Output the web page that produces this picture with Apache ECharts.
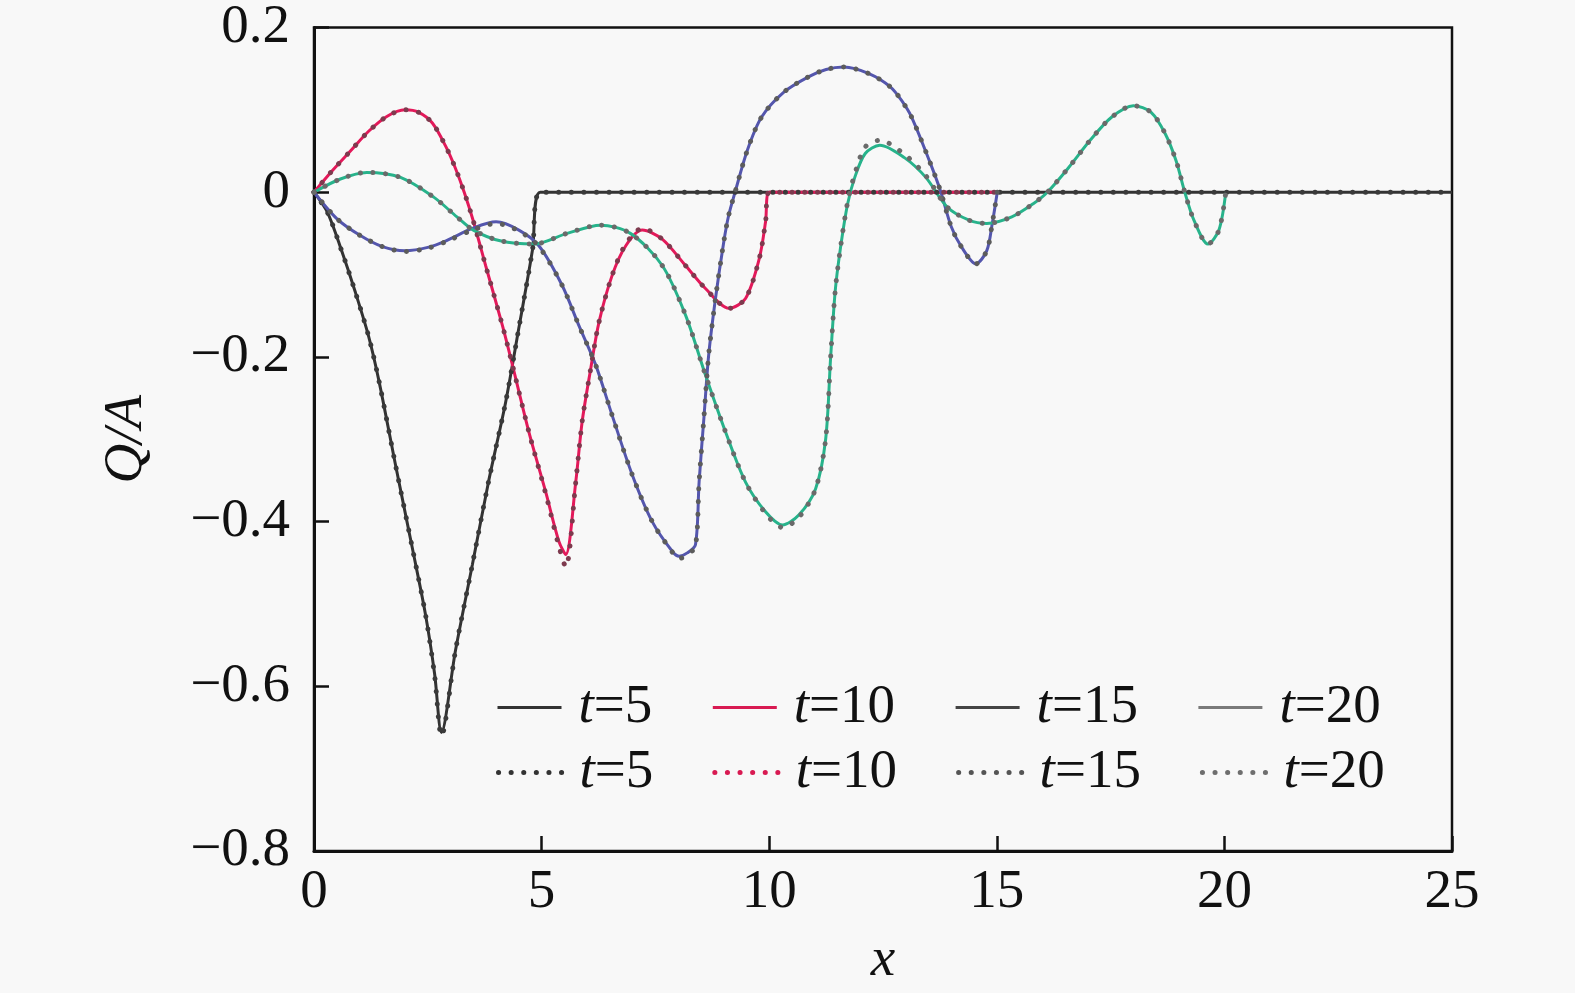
<!DOCTYPE html>
<html>
<head>
<meta charset="utf-8">
<script src="https://cdn.jsdelivr.net/npm/echarts@6/dist/echarts.min.js"></script>
<style>
html,body{margin:0;padding:0;background:#f8f8f8;}
#c{width:1575px;height:993px;}
</style>
</head>
<body>
<div id="c"></div>
<script>
// ---- data ----
const xTicks = [0, 5, 10, 15, 20, 25];
const yTicks = [-0.8, -0.6, -0.4, -0.2, 0, 0.2];

const t5X  = [0,0.3,0.6,0.9,1.2,1.43,1.79,2.16,2.45,2.65,2.8,3.11,3.48,3.84,4.21,4.5,4.8,4.97,25];
const t5Y  = [0,-0.025,-0.07,-0.12,-0.175,-0.23,-0.331,-0.432,-0.513,-0.585,-0.656,-0.556,-0.452,-0.35,-0.255,-0.165,-0.07,0,0];
const t5dY = [0,-0.025,-0.07,-0.12,-0.175,-0.23,-0.331,-0.432,-0.513,-0.587,-0.66,-0.556,-0.452,-0.35,-0.255,-0.165,-0.07,0,0];

const t10X  = [0,0.4,0.8,1.2,1.6,2.0,2.3,2.6,2.9,3.1,3.3,3.5,3.77,4.14,4.36,4.72,5.09,5.38,5.53,5.75,5.89,6.08,6.26,6.55,6.85,7.21,7.65,8.16,8.6,9.12,9.48,9.78,9.92,10.0,15];
const t10Y  = [0,0.026,0.05,0.074,0.092,0.1,0.097,0.084,0.055,0.03,0,-0.035,-0.089,-0.162,-0.21,-0.291,-0.364,-0.424,-0.44,-0.352,-0.279,-0.214,-0.158,-0.101,-0.065,-0.046,-0.057,-0.089,-0.117,-0.141,-0.129,-0.081,-0.036,0,0];
const t10dY = [0,0.026,0.05,0.074,0.092,0.1,0.097,0.084,0.055,0.03,0,-0.035,-0.089,-0.162,-0.21,-0.291,-0.366,-0.43,-0.455,-0.352,-0.279,-0.214,-0.158,-0.101,-0.063,-0.044,-0.057,-0.089,-0.117,-0.141,-0.129,-0.081,-0.036,0,0];

const t15X  = [0,0.5,1.0,1.5,2.0,2.5,2.9,3.48,4.0,4.5,4.94,5.45,5.82,6.19,6.55,6.99,7.43,7.87,8.02,8.2,8.38,8.46,8.57,8.67,8.82,9.0,9.11,9.25,9.52,9.83,10.31,10.86,11.25,11.64,12.19,12.66,12.9,13.13,13.52,13.76,14.0,14.23,14.54,14.78,14.9,15.01];
const t15Y  = [0,-0.032,-0.052,-0.066,-0.071,-0.067,-0.059,-0.044,-0.036,-0.046,-0.065,-0.113,-0.162,-0.21,-0.271,-0.343,-0.4,-0.436,-0.442,-0.438,-0.428,-0.352,-0.271,-0.198,-0.129,-0.061,-0.028,0,0.051,0.091,0.121,0.14,0.149,0.152,0.144,0.128,0.112,0.091,0.038,0.002,-0.042,-0.067,-0.087,-0.071,-0.038,0];
const t15dY = [0,-0.032,-0.052,-0.066,-0.072,-0.068,-0.06,-0.046,-0.038,-0.047,-0.066,-0.113,-0.162,-0.21,-0.271,-0.343,-0.4,-0.437,-0.445,-0.44,-0.43,-0.352,-0.271,-0.198,-0.129,-0.061,-0.028,0,0.051,0.091,0.121,0.14,0.149,0.152,0.144,0.128,0.112,0.091,0.038,0.002,-0.042,-0.067,-0.087,-0.071,-0.038,0];

const t20X  = [0,0.58,1.16,1.9,2.63,3.14,3.5,4.09,4.82,5.56,6.29,6.95,7.65,8.16,8.6,9.04,9.48,9.92,10.29,10.65,11.02,11.24,11.35,11.45,11.56,11.72,11.88,12.11,12.43,12.97,13.44,13.91,14.39,14.78,15.33,15.8,16.11,16.58,17.05,17.52,18.0,18.39,18.7,18.94,19.13,19.33,19.64,19.88,20.03];
const t20Y  = [0,0.016,0.024,0.018,-0.006,-0.03,-0.046,-0.059,-0.063,-0.05,-0.04,-0.05,-0.089,-0.149,-0.222,-0.291,-0.352,-0.388,-0.404,-0.392,-0.36,-0.3,-0.2,-0.12,-0.07,-0.015,0.018,0.047,0.057,0.042,0.018,-0.018,-0.034,-0.038,-0.03,-0.014,0,0.03,0.063,0.091,0.105,0.097,0.071,0.038,0,-0.034,-0.063,-0.046,0];
const t20dY = [0,0.016,0.024,0.018,-0.006,-0.03,-0.046,-0.059,-0.063,-0.05,-0.04,-0.05,-0.089,-0.149,-0.222,-0.291,-0.352,-0.39,-0.407,-0.395,-0.36,-0.3,-0.2,-0.12,-0.07,-0.013,0.022,0.055,0.063,0.046,0.02,-0.018,-0.034,-0.038,-0.03,-0.014,0,0.03,0.063,0.091,0.105,0.097,0.071,0.038,0,-0.034,-0.063,-0.046,0];

const timeLabels = ['5', '10', '15', '20'];

// ---- chart ----
const FONT = "'Liberation Serif', 'Times New Roman', Times, serif";
const FS = 55;
const pairs = (xs, ys) => xs.map((x, i) => [x, ys[i]]);
const DOT = [0.1, 12.5];

function solid(name, xs, ys, color) {
  return { name, type: 'line', data: pairs(xs, ys), showSymbol: false, symbol: 'none',
    smooth: 0.3, lineStyle: { color, width: 3 }, itemStyle: { color }, z: 2, silent: true };
}
function dotted(name, xs, ys, color) {
  return { name, type: 'line', data: pairs(xs, ys), showSymbol: false, symbol: 'none',
    smooth: 0.3, lineStyle: { color, width: 5, type: DOT, cap: 'round' }, itemStyle: { color }, z: 3, silent: true };
}

const series = [
  solid('s5', t5X, t5Y, '#333333'),
  solid('s10', t10X, t10Y, '#e3195a'),
  solid('s15', t15X, t15Y, '#5456ad'),
  solid('s20', t20X, t20Y, '#27b38b'),
  dotted('d5', t5X, t5dY, '#3a3a3a'),
  dotted('d10', t10X, t10dY, '#7e3a4e'),
  dotted('d15', t15X, t15dY, '#5c5c5c'),
  dotted('d20', t20X, t20dY, '#6a6a6a'),
];

const legendText = {
  fontFamily: FONT, fontSize: FS, color: '#111', padding: [0, 0, 0, 12],
  rich: { i: { fontFamily: FONT, fontSize: FS, fontStyle: 'italic', color: '#111' } }
};
const fmt = name => '{i|t}=' + timeLabels[['5','10','15','20'].indexOf(name.slice(1))];

const legendSolidColors = ['#333333', '#d81a52', '#444444', '#7a7a7a'];
const legendDotColors = ['#333333', '#d81a52', '#555555', '#6e6e6e'];

const option = {
  backgroundColor: '#f8f8f8',
  animation: false,
  grid: { left: 314, top: 27, width: 1138, height: 824, show: true, borderColor: '#111', borderWidth: 2.5, backgroundColor: 'transparent' },
  xAxis: {
    type: 'value', min: 0, max: 25, interval: 5,
    name: 'x', nameLocation: 'middle', nameGap: 82,
    nameTextStyle: { fontFamily: FONT, fontSize: FS, fontStyle: 'italic', color: '#111' },
    axisLine: { show: true, onZero: false, lineStyle: { color: '#111', width: 3 } },
    axisTick: { show: true, inside: true, length: 15, lineStyle: { color: '#111', width: 2.5 } },
    splitLine: { show: false },
    axisLabel: { fontFamily: FONT, fontSize: FS, color: '#111', margin: 14,
      formatter: v => xTicks.includes(v) ? String(v) : '' }
  },
  yAxis: {
    type: 'value', min: -0.8, max: 0.2, interval: 0.2,
    name: 'Q/A', nameLocation: 'middle', nameGap: 160, nameRotate: 90,
    nameTextStyle: { fontFamily: FONT, fontSize: FS, fontStyle: 'italic', color: '#111' },
    axisLine: { show: true, onZero: false, lineStyle: { color: '#111', width: 3 } },
    axisTick: { show: true, inside: true, length: 15, lineStyle: { color: '#111', width: 2.5 } },
    splitLine: { show: false },
    axisLabel: { fontFamily: FONT, fontSize: FS, color: '#111', margin: 24,
      formatter: v => {
        const r = Math.round(v * 10) / 10;
        if (!yTicks.some(t => Math.abs(t - r) < 1e-9)) return '';
        if (r === 0) return '0';
        return (r < 0 ? '\u2212' : '') + Math.abs(r).toFixed(1);
      } }
  },
  legend: [
    { left: 496, top: 680, orient: 'horizontal', padding: 0, itemGap: 59, itemWidth: 64, itemHeight: 20,
      data: ['s5','s10','s15','s20'].map((n, i) => ({ name: n, lineStyle: { color: legendSolidColors[i], width: 3 }, itemStyle: { color: legendSolidColors[i], opacity: 0 } })),
      formatter: fmt, textStyle: legendText, selectedMode: false },
    { left: 496, top: 745, orient: 'horizontal', padding: 0, itemGap: 59, itemWidth: 64, itemHeight: 20,
      data: ['d5','d10','d15','d20'].map((n, i) => ({ name: n, lineStyle: { color: legendDotColors[i], width: 5, type: DOT, cap: 'round' }, itemStyle: { color: legendDotColors[i], opacity: 0 } })),
      formatter: fmt, textStyle: legendText, selectedMode: false }
  ],
  series
};

const chart = echarts.init(document.getElementById('c'), null, { renderer: 'canvas' });
chart.setOption(option);
</script>
</body>
</html>
